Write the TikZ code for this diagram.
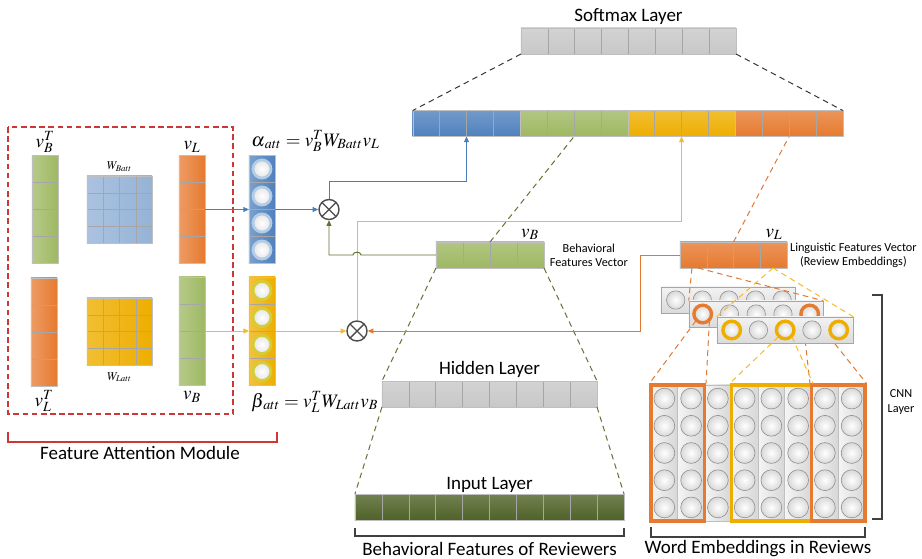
\documentclass[tikz,border=0pt]{standalone}
\usepackage{mathptmx}
\usepackage{fontspec}
\setmainfont{Carlito}
\usetikzlibrary{positioning, arrows.meta, calc, fit}
\definecolor{cellblue}{RGB}{79,129,189}
\definecolor{paleblue}{RGB}{149,179,215}
\definecolor{cellgreen}{RGB}{158,184,98}
\definecolor{cellgold}{RGB}{238,174,0}
\definecolor{cellorange}{RGB}{230,122,48}
\definecolor{cellolive}{RGB}{79,98,40}
\definecolor{cellgray}{RGB}{200,200,200}
\definecolor{boxred}{RGB}{205,55,55}
\definecolor{ringblue}{RGB}{180,205,230}
\definecolor{ringgold}{RGB}{212,205,55}
\definecolor{flowblue}{RGB}{74,126,187}
\definecolor{flowgreen}{RGB}{95,115,50}
\definecolor{flowgold}{RGB}{247,185,40}
\definecolor{floworange}{RGB}{224,120,50}
\tikzset{%
  cellline/.style={draw=black!35, line width=0.35pt},
  hcells/.style={
    path picture={
      \pgfmathtruncatemacro\lastcell{#1-1}
      \foreach \k in {1,...,\lastcell}
        \draw[cellline]
          ($(path picture bounding box.north west)!{\k/#1}!(path picture bounding box.north east)$) --
          ($(path picture bounding box.south west)!{\k/#1}!(path picture bounding box.south east)$);
    }
  },
  vcells/.style={
    path picture={
      \pgfmathtruncatemacro\lastcell{#1-1}
      \foreach \k in {1,...,\lastcell}
        \draw[cellline]
          ($(path picture bounding box.north west)!{\k/#1}!(path picture bounding box.south west)$) --
          ($(path picture bounding box.north east)!{\k/#1}!(path picture bounding box.south east)$);
    }
  },
  gridcells/.style={
    path picture={
      \pgfmathtruncatemacro\lastcell{#1-1}
      \foreach \k in {1,...,\lastcell} {
        \draw[cellline]
          ($(path picture bounding box.north west)!{\k/#1}!(path picture bounding box.north east)$) --
          ($(path picture bounding box.south west)!{\k/#1}!(path picture bounding box.south east)$);
        \draw[cellline]
          ($(path picture bounding box.north west)!{\k/#1}!(path picture bounding box.south west)$) --
          ($(path picture bounding box.north east)!{\k/#1}!(path picture bounding box.south east)$);
      }
    }
  },
  hbar/.style={rectangle, inner sep=0pt, outer sep=0pt, minimum height=0.65cm,
    draw=white!75!black, line width=0.3pt, top color=#1!80!white, bottom color=#1},
  vbar/.style={rectangle, inner sep=0pt, outer sep=0pt, minimum width=0.65cm, minimum height=2.7cm,
    draw=white!75!black, line width=0.3pt, left color=#1!75!white, right color=#1, vcells=4},
  matblock/.style={rectangle, inner sep=0pt, outer sep=0pt, minimum width=1.625cm, minimum height=1.675cm,
    draw=white!75!black, line width=0.3pt, left color=#1!80!white, right color=#1, gridcells=4},
  attdot/.style={circle, inner sep=0pt, minimum size=0.45cm, draw=#1, line width=2pt,
    inner color=white, outer color=black!10},
  cnnunit/.style={circle, inner sep=0pt, minimum size=0.46cm, draw=black!45, line width=0.4pt,
    inner color=white, outer color=black!15},
  hotunit/.style={cnnunit, draw=#1, line width=2.4pt, minimum size=0.44cm},
  cnnrow/.style={rectangle, inner sep=0pt, minimum height=0.65cm, draw=black!35, line width=0.4pt,
    top color=black!5, bottom color=black!14},
  wordcol/.style={rectangle, inner sep=0pt, outer sep=0pt, minimum width=0.669cm, minimum height=3.4cm,
    draw=black!25, line width=0.4pt, left color=black!4, right color=black!16},
  kernel/.style={rectangle, inner sep=0pt, draw=#1, line width=2.2pt},
  mulop/.style={circle, draw=black!70, line width=1pt, fill=white, minimum size=0.5cm, inner sep=0pt,
    path picture={
      \draw[black!70, line width=1pt]
        (path picture bounding box.north west) -- (path picture bounding box.south east)
        (path picture bounding box.south west) -- (path picture bounding box.north east);
    }},
  flow/.style={->, draw=#1, line width=0.7pt},
  guide/.style={draw=#1, dash pattern=on 4pt off 3pt, line width=0.7pt},
  groupbracket/.style={draw=#1, line width=1.4pt},
  textlbl/.style={font=\fontsize{13.5}{15}\selectfont, inner sep=1pt},
  notelbl/.style={font=\fontsize{8.7}{10}\selectfont, align=center, inner sep=1pt},
  mathlbl/.style={font=\fontsize{13.5}{15}\selectfont, inner sep=0pt},
  smallmath/.style={font=\fontsize{8.5}{10}\selectfont, inner sep=0pt}
}
\begin{document}
\begin{tikzpicture}[x=0.025cm, y=-0.025cm, >={Triangle[length=4pt,width=3.5pt]}]
  \useasboundingbox[fill=white] (0,0) rectangle (922,559);

  % softmax layer and concatenated features
  \node[hbar=cellgray, hcells=8, minimum width=5.375cm] (softmax) at (628.5,41) {};
  \node[textlbl, above=1pt of softmax] (smlbl) {Softmax Layer};
  \node[hbar=cellblue, hcells=4, minimum width=2.6875cm] (catB) at (466.5,123.5) {};
  \node[hbar=cellgreen, hcells=4, minimum width=2.6875cm, right=0pt of catB] (catG) {};
  \node[hbar=cellgold, hcells=4, minimum width=2.6875cm, right=0pt of catG] (catY) {};
  \node[hbar=cellorange, hcells=4, minimum width=2.6875cm, right=0pt of catY] (catO) {};
  \draw[guide=black!80] (softmax.south west) -- (catB.north west);
  \draw[guide=black!80] (softmax.south east) -- (catO.north east);

  % feature attention module
  \draw[boxred, dash pattern=on 4pt off 2.5pt, line width=0.8pt] (8,127) rectangle (233,414);
  \node[vbar=cellgreen] (colBT) at (45,209.5) {};
  \node[matblock=paleblue] (matB) at (119.5,209.5) {};
  \node[vbar=cellorange] (colL) at (192,209.5) {};
  \node[vbar=cellblue] (alpha) at (262,209.5) {};
  \node[vbar=cellorange] (colLT) at (44,332) {};
  \node[matblock=cellgold] (matL) at (119.5,331.5) {};
  \node[vbar=cellgreen] (colB) at (192,331) {};
  \node[vbar=cellgold] (beta) at (262,331) {};
  \foreach \k in {1,...,4} {
    \node[attdot=ringblue] (a\k) at ($(alpha.north)!{(\k-0.5)/4}!(alpha.south)$) {};
    \node[attdot=ringgold] (b\k) at ($(beta.north)!{(\k-0.5)/4}!(beta.south)$) {};
  }
  \node[mathlbl, above=2pt of colBT] (lbBT) {$v_B^T$};
  \node[smallmath, above=3pt of matB] (lbWB) {$W_{Batt}$};
  \node[mathlbl, above=2pt of colL] (lbL) {$v_L$};
  \node[mathlbl, below=3pt of colLT] (lbLT) {$v_L^T$};
  \node[smallmath, below=5pt of matL] (lbWL) {$W_{Latt}$};
  \node[mathlbl, below=4pt of colB] (lbB) {$v_B$};
  \node[mathlbl, anchor=base west] (alphaeq) at (251,146) {$\alpha_{\mkern2mu att}=v_B^TW_{Batt}v_L$};
  \node[mathlbl, anchor=base west] (betaeq) at (251,407) {$\beta_{\mkern2mu att}=v_L^TW_{Latt}v_B$};
  \draw[groupbracket=boxred] (8,432) -- (8,442) -- (277,442) -- (277,432);
  \node[textlbl] (famlbl) at (140,453) {Feature Attention Module};

  % multiplication nodes
  \node[mulop] (upmul) at (329,209.5) {};
  \node[mulop] (lowmul) at (357,331) {};

  % behavioral branch
  \node[hbar=cellgreen, hcells=4, minimum width=2.7cm] (vB) at (490,255) {};
  \node[mathlbl, anchor=base] (lbvB) at (530,237) {$v_B$};
  \node[notelbl, right=3pt of vB] (vBnote) {Behavioral\\Features Vector};
  \node[hbar=cellgray, hcells=8, minimum width=5.375cm] (hidden) at (489.5,394) {};
  \node[textlbl, above=1pt of hidden] (hidlbl) {Hidden Layer};
  \node[hbar=cellolive, hcells=10, minimum width=6.725cm] (input) at (489.5,507) {};
  \node[textlbl, above=0pt of input] (inlbl) {Input Layer};
  \draw[guide=flowgreen] (vB.north) -- (catG.south);
  \draw[guide=flowgreen] (vB.south west) -- (hidden.north west);
  \draw[guide=flowgreen] (vB.south east) -- (hidden.north east);
  \draw[guide=flowgreen] (hidden.south west) -- (input.north west);
  \draw[guide=flowgreen] (hidden.south east) -- (input.north east);
  \draw[groupbracket=black!75] ($(input.south west)+(0,8)$) -- ++(0,8) -| ($(input.south east)+(0,8)$);
  \node[textlbl] (bflbl) at (489.5,549) {Behavioral Features of Reviewers};

  % linguistic branch
  \node[hbar=cellorange, hcells=4, minimum width=2.675cm] (vL) at (733.5,255) {};
  \node[mathlbl, anchor=base] (lbvL) at (774,237) {$v_L$};
  \node[notelbl, right=1pt of vL] (vLnote) {Linguistic Features Vector\\(Review Embeddings)};
  \draw[guide=floworange] (vL.north) -- (catO.south);

  % CNN layer
  \node[cnnrow, minimum width=3.35cm] (row1) at (728,300) {};
  \foreach \k in {1,...,5}
    \node[cnnunit] (r1c\k) at ($(row1.west)+({15+26.6*(\k-1)},0)$) {};
  \node[cnnrow, minimum width=3.35cm] (row2) at (756,314) {};
  \foreach \k in {1,...,5}
    \node[cnnunit] (r2c\k) at ($(row2.west)+({14+26.75*(\k-1)},0)$) {};
  \node[hotunit=cellorange] at (r2c1) {};
  \node[hotunit=cellorange] at (r2c5) {};
  \draw[guide=floworange] ($(vL.south west)+(12,0)$) -- (row2.north west);
  \draw[guide=floworange] ($(vL.south west)+(18,0)$) -- (row2.north east);

  % word embeddings
  \foreach \i in {1,...,8} {
    \node[wordcol] (w\i) at ({651+26.75*(\i-0.5)},453) {};
    \foreach \j in {1,...,5}
      \node[cnnunit, minimum size=0.52cm] at ($(w\i.north)!{(\j-0.5)/5}!(w\i.south)$) {};
  }
  \node[kernel=cellorange, fit=(w1)(w2)] (k1) {};
  \node[kernel=cellgold, fit=(w4)(w6)] (k2) {};
  \node[kernel=cellorange, fit=(w7)(w8)] (k3) {};
  \draw[guide=floworange] (r2c1.south west) -- (k1.north west);
  \draw[guide=floworange] (r2c1.south east) -- (k1.north east);
  \draw[guide=floworange] (r2c5.south west) -- (k3.north west);
  \draw[guide=floworange] (r2c5.south east) -- (k3.north east);

  \node[cnnrow, minimum width=3.4cm] (row3) at (785,330) {};
  \foreach \k in {1,...,5}
    \node[cnnunit] (r3c\k) at ($(row3.west)+({15+26.75*(\k-1)},0)$) {};
  \foreach \k in {1,3,5}
    \node[hotunit=cellgold] at (r3c\k) {};
  \draw[guide=flowgold] ($(vL.south east)+(-14,0)$) -- (row3.north west);
  \draw[guide=flowgold] ($(vL.south east)+(-14,0)$) -- (row3.north east);
  \draw[guide=flowgold] (r3c3.south west) -- (k2.north west);
  \draw[guide=flowgold] (r3c3.south east) -- (k2.north east);

  \draw[groupbracket=black!75] (872,295) -- (882,295) -- (882,519) -- (872,519);
  \node[notelbl] (cnnlbl) at (901,402) {CNN\\Layer};
  \draw[groupbracket=black!75] ($(w1.south west)+(0,6)$) -- ++(0,10) -| ($(w8.south east)+(0,6)$);
  \node[textlbl] (welbl) at (758,549) {Word Embeddings in Reviews};

  % attention flows
  \draw[flow=flowblue] (colL.east) -- (alpha.west);
  \draw[flow=flowblue] (alpha.east) -- (upmul.west);
  \draw[flow=flowblue] (upmul.north) -- ++(0,-17) -| (catB.south);
  \draw[flow=flowgold] (colB.east) -- (beta.west);
  \draw[flow=flowgold] (beta.east) -- (lowmul.west);
  \draw[flow=flowgold] (lowmul.north) -- ++(0,-99) -| (catY.south);
  \draw[flow=flowgreen] (vB.west) -- (361,255) to[out=90, in=90, looseness=1.2] (353,255) -| (upmul.south);
  \draw[flow=floworange] (vL.west) -- ++(-39,0) |- (lowmul.east);
\end{tikzpicture}
\end{document}
